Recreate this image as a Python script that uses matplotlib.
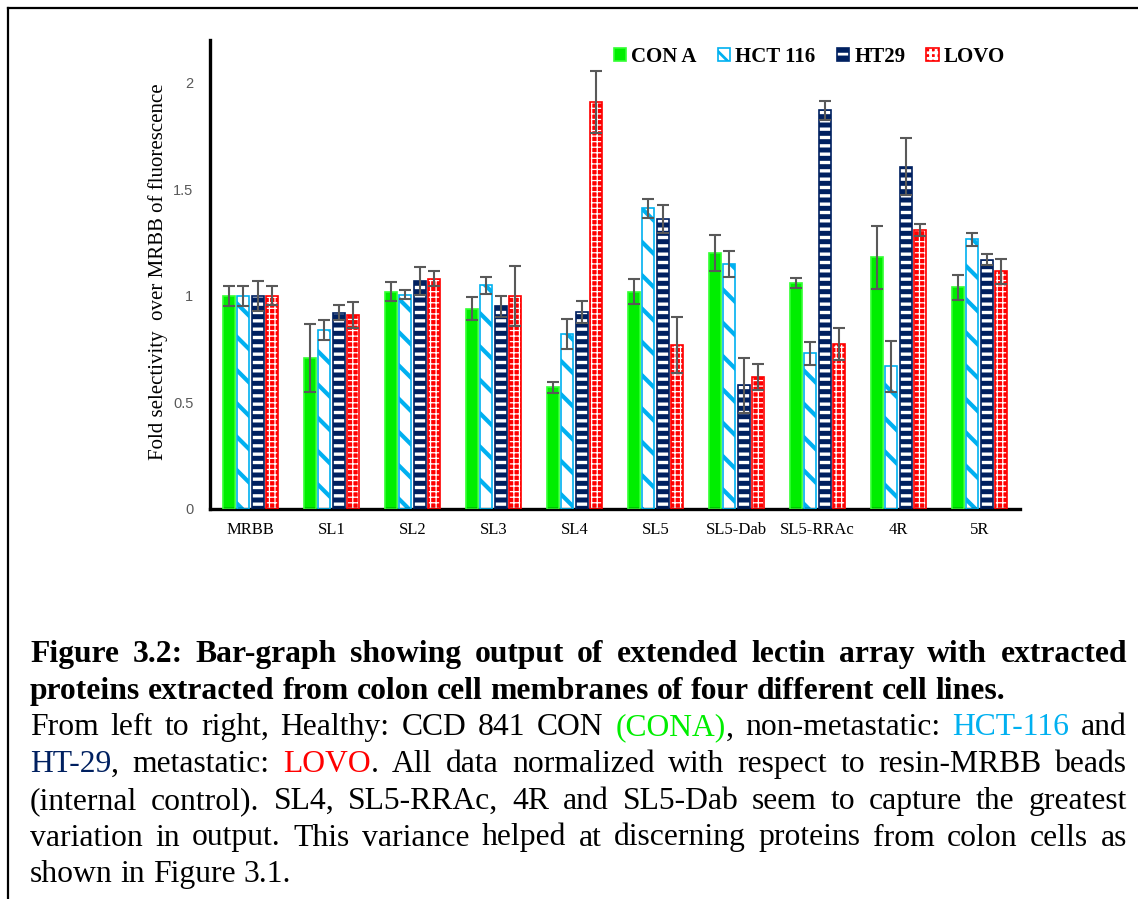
import matplotlib
matplotlib.use('Agg')
import matplotlib.pyplot as plt
from matplotlib.lines import Line2D
import numpy as np

W, H = 1138, 899

groups = ['MRBB', 'SL1', 'SL2', 'SL3', 'SL4', 'SL5', 'SL5-Dab', 'SL5-RRAc', '4R', '5R']
series_names = ['CON A', 'HCT 116', 'HT29', 'LOVO']

con_a = [1.00, 0.71, 1.02, 0.94, 0.57, 1.02, 1.20, 1.06, 1.18, 1.04]
con_a_err = [0.047, 0.16, 0.045, 0.054, 0.025, 0.06, 0.083, 0.025, 0.147, 0.058]
hct116 = [1.00, 0.84, 1.005, 1.05, 0.82, 1.41, 1.15, 0.73, 0.67, 1.265]
hct116_err = [0.047, 0.045, 0.02, 0.04, 0.07, 0.045, 0.06, 0.055, 0.12, 0.03]
ht29 = [1.00, 0.92, 1.07, 0.95, 0.925, 1.36, 0.58, 1.87, 1.605, 1.17]
ht29_err = [0.07, 0.035, 0.065, 0.05, 0.053, 0.065, 0.13, 0.045, 0.134, 0.026]
lovo = [1.00, 0.91, 1.08, 1.00, 1.91, 0.77, 0.62, 0.775, 1.31, 1.115]
lovo_err = [0.045, 0.06, 0.035, 0.14, 0.145, 0.13, 0.06, 0.075, 0.028, 0.06]

y_ticks = [0, 0.5, 1, 1.5, 2]
y_tick_labels = ['0', '0.5', '1', '1.5', '2']

GREEN = '#00ee00'
BLUE = '#00b0f0'
NAVY = '#002060'
RED = '#ff0000'

# face, hatch colour, hatch, hatch width, edge
styles = [
    (GREEN, GREEN, None, 1.0, '#33ff33'),
    ('white', BLUE, '\\', 3.0, BLUE),
    (NAVY, 'white', '--', 2.4, NAVY),
    (RED, 'white', '+++', 0.9, RED),
]

plt.rcParams['hatch.linewidth'] = 2.0

fig = plt.figure(figsize=(W / 100, H / 100), dpi=100)
ax = fig.add_axes([210 / W, 1 - 509 / H, 810 / W, 469 / H])

x = np.arange(len(groups))
width = 0.148
step = 0.18
vals = [con_a, hct116, ht29, lovo]
errs = [con_a_err, hct116_err, ht29_err, lovo_err]
handles = []
for i, (v, e) in enumerate(zip(vals, errs)):
    face, hcol, hatch, hlw, edge = styles[i]
    pos = x + (i - 1.5) * step
    with plt.rc_context({'hatch.linewidth': hlw}):
        bars = ax.bar(pos, v, width, color=face, edgecolor=hcol, hatch=hatch,
                      linewidth=0, zorder=2)
    for p in bars:
        if hasattr(p, 'set_hatch_linewidth'):
            p.set_hatch_linewidth(hlw)
    outline = ax.bar(pos, v, width, fill=False, edgecolor=edge, linewidth=1.2, zorder=3)
    ax.errorbar(pos, v, yerr=e, fmt='none', ecolor='#595959', elinewidth=1.5,
                capsize=4.5, capthick=1.5, zorder=4)
    handles.append((bars, outline))

ax.set_xlim(-0.5, 9.5)
ax.set_ylim(0, 2.2)
ax.set_yticks(y_ticks)
ax.set_yticklabels(y_tick_labels, color='#595959', fontsize=10.5,
                   family='Liberation Sans')
ax.set_xticks(x)
ax.set_xticklabels(groups, fontsize=12, family='Liberation Serif')
ax.tick_params(length=0)
ax.tick_params(axis='y', pad=12)
ax.tick_params(axis='x', pad=9)
for s in ['top', 'right']:
    ax.spines[s].set_visible(False)
for s in ['left', 'bottom']:
    ax.spines[s].set_linewidth(2.4)
ax.set_ylabel('Fold selectivity  over MRBB of fluorescence', fontsize=15,
              family='Liberation Serif')
ax.yaxis.set_label_coords(-0.052, 0.505)

ax.legend(handles=handles, labels=series_names, loc='center',
          bbox_to_anchor=(0.74, 0.964), ncol=4,
          frameon=False, handlelength=0.6, handleheight=0.6, handletextpad=0.25,
          columnspacing=1.0, prop={'family': 'Liberation Serif', 'weight': 'bold', 'size': 15})

# frame lines
fig.add_artist(Line2D([8 / W, 1], [1 - 8 / H, 1 - 8 / H], color='black', lw=1.6))
fig.add_artist(Line2D([8 / W, 8 / W], [1 - 8 / H, 0], color='black', lw=1.6))

# caption
cap_size = 22.8
left_px, right_px = 30, 1127
baseline0 = 662
line_gap = 36.7

caption = [
    ([("Figure 3.2: Bar-graph showing output of extended lectin array with extracted", 'black')], True, True),
    ([("proteins extracted from colon cell membranes of four different cell lines.", 'black')], True, False),
    ([("From left to right, Healthy: CCD 841 CON ", 'black'), ("(CONA)", GREEN),
      (", non-metastatic: ", 'black'), ("HCT-116", BLUE), (" and", 'black')], False, True),
    ([("HT-29", NAVY), (", metastatic: ", 'black'), ("LOVO", RED),
      (". All data normalized with respect to resin-MRBB beads", 'black')], False, True),
    ([("(internal control). SL4, SL5-RRAc, 4R and SL5-Dab seem to capture the greatest", 'black')], False, True),
    ([("variation in output. This variance helped at discerning proteins from colon cells as", 'black')], False, True),
    ([("shown in Figure 3.1.", 'black')], False, False),
]

renderer = fig.canvas.get_renderer()


def text_width(t):
    return t.get_window_extent(renderer).width


for li, (runs, bold, justify) in enumerate(caption):
    weight = 'bold' if bold else 'normal'
    words = [[]]
    for txt, col in runs:
        parts = txt.split(' ')
        for j, part in enumerate(parts):
            if j > 0:
                words.append([])
            if part:
                words[-1].append((part, col))
    words = [w for w in words if w]
    y = 1 - (baseline0 + li * line_gap) / H
    kw = dict(fontsize=cap_size, fontweight=weight, family='Liberation Serif', va='baseline')
    objs = []
    total = 0
    for w in words:
        segs = []
        ww = 0
        for part, col in w:
            t = fig.text(0, y, part, color=col, **kw)
            tw = text_width(t)
            segs.append((t, ww))
            ww += tw
        objs.append((segs, ww))
        total += ww
    a = fig.text(0, 0, 'a a', **kw)
    b = fig.text(0, 0, 'aa', **kw)
    space = text_width(a) - text_width(b)
    a.remove()
    b.remove()
    if justify and len(objs) > 1:
        gap = (right_px - left_px - total) / (len(objs) - 1)
    else:
        gap = space
    cx = left_px
    for segs, ww in objs:
        for t, off in segs:
            t.set_x((cx + off) / W)
        cx += ww + gap

fig.savefig('out.png', dpi=100)
